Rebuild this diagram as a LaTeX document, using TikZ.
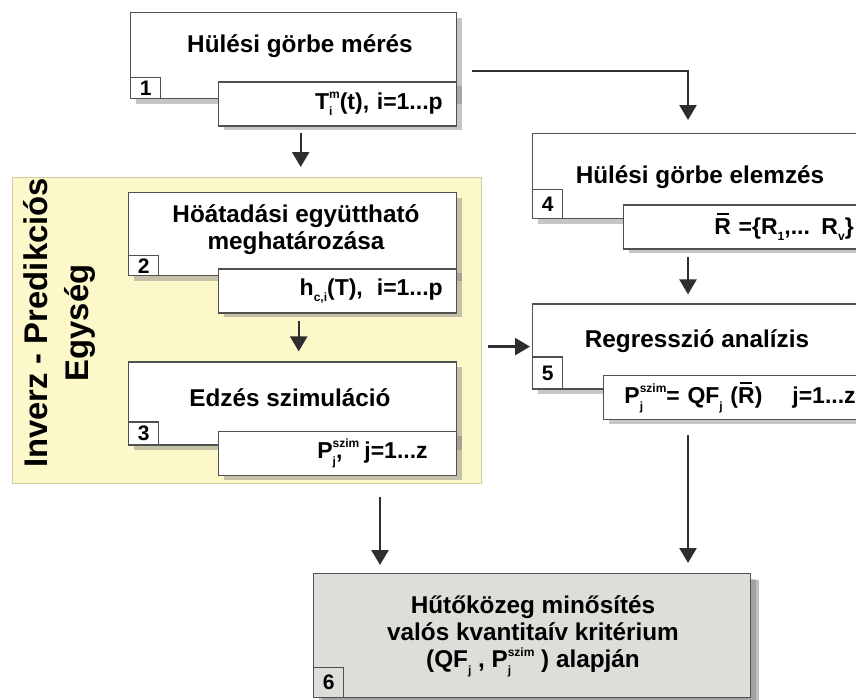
\documentclass[tikz,border=0pt]{standalone}
\usepackage{fontspec}
\setmainfont{Liberation Sans}
\usetikzlibrary{positioning,shadows,arrows.meta,calc}
\definecolor{boxline}{HTML}{505050}
\definecolor{arrowcol}{HTML}{2E2E2E}
\definecolor{panelfill}{HTML}{FCF8CA}
\definecolor{panelline}{HTML}{D2CCA2}
\definecolor{finalfill}{HTML}{DEDDD9}
\newcommand{\up}[1]{\raisebox{.45em}{\fontsize{12pt}{12pt}\selectfont #1}}
\newcommand{\dn}[1]{\raisebox{-.3em}{\fontsize{12pt}{12pt}\selectfont #1}}
\newcommand{\updn}[2]{\setbox0\hbox{\up{#1}}\setbox2\hbox{\dn{#2}}%
  \ifdim\wd0>\wd2\relax\rlap{\box2}\box0\relax\else\rlap{\box0}\box2\relax\fi}
\newcommand{\rbar}{\makebox[0pt][l]{\hspace{.1em}\raisebox{.82em}{\rule{.52em}{.08em}}}R}

\begin{document}
\begin{tikzpicture}[x=1pt,y=-1pt,
    mainbox/.style={draw=boxline, line width=1.4pt, fill=white, anchor=north west,
      drop shadow={shadow xshift=5pt, shadow yshift=-5pt, opacity=.45}},
    outbox/.style={draw=boxline, line width=1.4pt, fill=white, minimum height=44pt,
      inner xsep=14pt, align=right, font=\fontsize{23}{26}\bfseries,
      drop shadow={shadow xshift=5pt, shadow yshift=-4pt, opacity=.45}},
    numbox/.style={draw=boxline, line width=1.4pt, anchor=south west, minimum width=30pt,
      inner sep=0pt, font=\fontsize{21}{21}\bfseries},
    ttl/.style={anchor=base, inner sep=0pt, align=center, font=\fontsize{24.3}{27}\bfseries},
    panel/.style={draw=panelline, line width=.8pt, fill=panelfill, anchor=north west,
      minimum width=469pt, minimum height=306pt},
    arr/.style={draw=arrowcol, line width=2.4pt, -{Triangle[length=15pt,width=17pt]}}]
    \useasboundingbox (0,0) rectangle (856,699);
    \clip (0,0) rectangle (856,699);

    \node[panel] (ipu) at (12,177) {};
    \node[rotate=90, align=center, inner sep=0pt, font=\fontsize{32.8}{41}\bfseries] (ipul) at (59,323)
        {Inverz - Predikciós\\Egység};

    \node[mainbox, minimum width=326pt, minimum height=86pt] (b1) at (130,12) {};
    \node[outbox, text width=210pt, below left=-18pt and 0pt of b1.south east] (b1o) {T\updn{m}{i}(t), i=1...p};
    \node[numbox, minimum height=21pt] (n1) at (b1.south west) {1};
    \node[ttl] (t1) at (300,52) {Hülési görbe mérés};

    \node[mainbox, minimum width=328pt, minimum height=83pt] (b2) at (128,192) {};
    \node[outbox, text width=210pt, below left=-8pt and 0pt of b2.south east] (b2o) {h\dn{c,i}(T),\hspace{14pt}i=1...p};
    \node[numbox, minimum height=20pt] (n2) at (b2.south west) {2};
    \node[ttl] (t2) at (296,249) {Höátadási együttható\\meghatározása};

    \node[mainbox, minimum width=328pt, minimum height=83pt, below=85pt of b2] (b3) {};
    \node[outbox, text width=180pt, inner xsep=29pt, below left=-15pt and 0pt of b3.south east] (b3o)
        {P\rlap{\up{szim}}\dn{j},\hspace{22pt}j=1...z};
    \node[numbox, minimum height=23pt] (n3) at (b3.south west) {3};
    \node[ttl] (t3) at (290,406) {Edzés szimuláció};

    \node[mainbox, minimum width=336pt, minimum height=85pt] (b4) at (532,133) {};
    \node[outbox, text width=215pt, inner xsep=15pt, below left=-15pt and 0pt of b4.south east] (b4o)
        {\rbar{} =\{R\dn{1},... R\dn{v}\}};
    \node[numbox, minimum height=29pt] (n4) at (b4.south west) {4};
    \node[ttl] (t4) at (700,183) {Hülési görbe elemzés};

    \node[mainbox, minimum width=336pt, minimum height=85pt, below=84pt of b4] (b5) {};
    \node[outbox, text width=239pt, inner xsep=13pt, below left=-15pt and 0pt of b5.south east] (b5o)
        {P\updn{szim}{j}= QF\dn{j} (\rbar)\hspace{30pt}j=1...z};
    \node[numbox, minimum height=32pt] (n5) at (b5.south west) {5};
    \node[ttl] (t5) at (697,347) {Regresszió analízis};

    \node[mainbox, fill=finalfill, minimum width=437pt, minimum height=124pt,
        drop shadow={shadow xshift=8pt, shadow yshift=-6pt, opacity=.5}] (b6) at (313,573) {};
    \node[numbox, minimum height=30pt] (n6) at (b6.south west) {6};
    \node[ttl] (t6) at (533,667) {Hűtőközeg minősítés\\valós kvantitaív kritérium\\(QF\dn{j} , P\updn{szim}{j} ) alapján};

    \coordinate (k1) at (688,71);
    \coordinate (k2) at (380,530);
    \draw[arr, shorten <=6pt, shorten >=10pt] ($(b1.south |- b1o.south)+(7,0)$) -- ($(b1.south |- ipu.north)+(7,0)$);
    \draw[arr, shorten <=15pt, shorten >=13pt] (b1.east |- k1) -- (k1) -- (k1 |- b4.north);
    \draw[arr, shorten <=7pt, shorten >=10pt] ($(b2.south |- b2o.south)+(6,0)$) -- ($(b3.north)+(6,0)$);
    \draw[arr, shorten <=7pt, shorten >=9pt] (k1 |- b4o.south) -- (k1 |- b5.north);
    \draw[arr, shorten <=6pt, shorten >=2pt] (ipu.east |- b5.west) -- (b5.west);
    \draw[arr, shorten <=13pt, shorten >=8pt] (k2 |- ipu.south) -- (k2 |- b6.north);
    \draw[arr, shorten <=15pt, shorten >=10pt] (k1 |- b5o.south) -- (k1 |- b6.north);
\end{tikzpicture}
\end{document}
